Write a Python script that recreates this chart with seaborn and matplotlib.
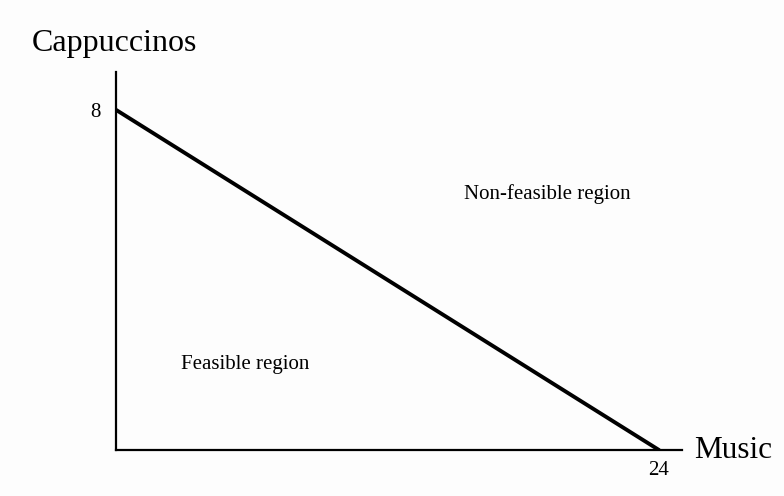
import matplotlib
matplotlib.use("Agg")
import matplotlib.pyplot as plt
import seaborn as sns
import pandas as pd

# budget line: max music at 0 cappuccinos, max cappuccinos at 0 music
music = [0, 24]
cappuccinos = [8, 0]
x_ticks = [24]
y_ticks = [8]

sns.set_style("white")
plt.rcParams['font.family'] = ['Liberation Serif', 'DejaVu Serif']
plt.rcParams['text.color'] = 'black'
plt.rcParams['xtick.color'] = 'black'
plt.rcParams['ytick.color'] = 'black'

df = pd.DataFrame({"Music": music, "Cappuccinos": cappuccinos})

fig = plt.figure(figsize=(7.84, 4.96), dpi=100)
fig.patch.set_facecolor("#fdfdfd")
ax = fig.add_axes([0.148, 0.0927, 0.722, 0.7621])
ax.set_facecolor("#fdfdfd")

sns.lineplot(data=df, x="Music", y="Cappuccinos", ax=ax, color="black",
             linewidth=2.8)

ax.set_xlim(0, 25.02)
ax.set_ylim(0, 8.89)
ax.set_xticks(x_ticks)
ax.set_yticks(y_ticks)
ax.set_xticklabels([str(t) for t in x_ticks], fontsize=15, color='black')
ax.set_yticklabels([str(t) for t in y_ticks], fontsize=15, color='black')
ax.tick_params(axis='x', length=0, pad=8)
ax.tick_params(axis='y', length=0, pad=11)
ax.set_xlabel("")
ax.set_ylabel("")

for side in ['top', 'right']:
    ax.spines[side].set_visible(False)
for side in ['left', 'bottom']:
    ax.spines[side].set_color("black")
    ax.spines[side].set_linewidth(1.6)

ax.text(19.05, 6.02, "Non-feasible region", fontsize=15, ha='center', va='center',
        color='black')
ax.text(5.70, 2.0, "Feasible region", fontsize=15, ha='center', va='center',
        color='black')

fig.text(32 / 784, 1 - 43 / 496, "Cappuccinos", fontsize=23, ha='left', va='center',
         color='black')
fig.text(694 / 784, 1 - 450 / 496, "Music", fontsize=22.5, ha='left', va='center',
         color='black')

fig.savefig("out.png", dpi=100, facecolor=fig.get_facecolor())
